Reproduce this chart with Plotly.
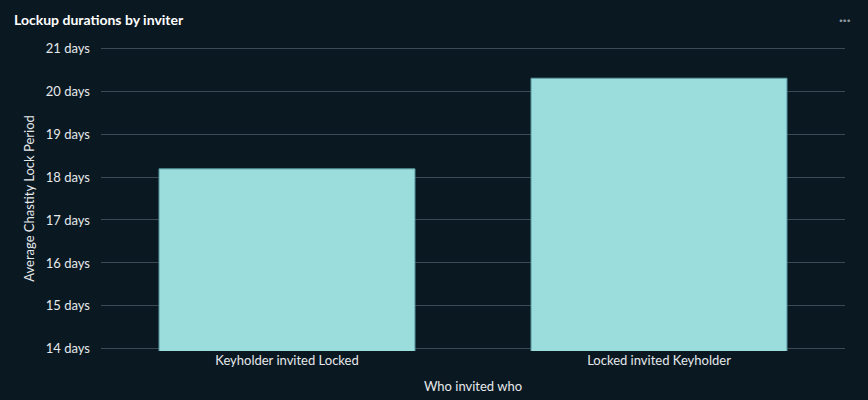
import plotly.graph_objects as go

# Data
inviters = ['Keyholder invited Locked', 'Locked invited Keyholder']
avg_lock_days = [18.19, 20.30]
y_ticks = [14, 15, 16, 17, 18, 19, 20, 21]
y_tick_text = [f'{v} days' for v in y_ticks]

bg = '#0a1822'
text_col = '#e6e9eb'
grid_col = '#3b4b56'

trace = go.Bar(x=inviters, y=avg_lock_days,
               marker={'color': '#9bdcdc', 'line': {'color': '#5c9ea6', 'width': 1}},
               hovertemplate='%{x}<br>%{y:.1f} days<extra></extra>')

# range padded a little so the 14 and 21 gridlines are still drawn
layout = go.Layout(
    width=868, height=400,
    paper_bgcolor=bg, plot_bgcolor=bg,
    font={'family': 'Lato, "Open Sans", sans-serif', 'size': 13, 'color': text_col},
    margin={'l': 101, 'r': 23, 't': 46, 'b': 49},
    bargap=0.312,
    showlegend=False,
    xaxis={'title': {'text': 'Who invited who', 'font': {'size': 13}, 'standoff': 14},
           'showgrid': False, 'showline': False, 'zeroline': False, 'ticks': '',
           'ticklabelstandoff': 0, 'tickfont': {'size': 13}, 'automargin': False},
    yaxis={'title': {'text': 'Average Chastity Lock Period', 'font': {'size': 13}, 'standoff': 8},
           'range': [13.95, 21.05], 'tickvals': y_ticks, 'ticktext': y_tick_text,
           'showgrid': True, 'gridcolor': grid_col, 'gridwidth': 1,
           'zeroline': False, 'showline': False, 'ticks': '', 'ticklabelstandoff': 10,
           'tickfont': {'size': 13}, 'automargin': False},
    annotations=[
        {'text': '<b>Lockup durations by inviter</b>', 'xref': 'paper', 'yref': 'paper',
         'x': 0, 'xanchor': 'left', 'xshift': -89, 'y': 1, 'yanchor': 'middle', 'yshift': 27,
         'showarrow': False, 'font': {'size': 14, 'color': '#ffffff'}},
        {'text': '<b>···</b>', 'xref': 'paper', 'yref': 'paper',
         'x': 1, 'xanchor': 'center', 'xshift': 0, 'y': 1, 'yanchor': 'middle', 'yshift': 27,
         'showarrow': False, 'font': {'size': 14, 'color': '#8a969e'}},
    ],
)

fig = go.Figure(data=[trace], layout=layout)
fig.write_html('out.html', config={'displayModeBar': False},
               post_script="document.body.style.margin='0';")
